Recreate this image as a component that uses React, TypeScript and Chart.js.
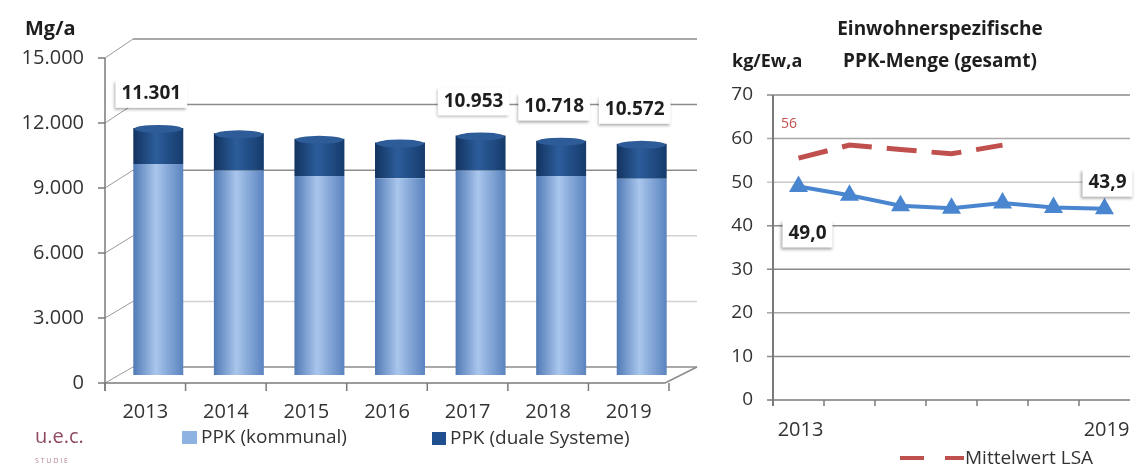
import React, { useEffect, useRef } from "react";
import { Chart, registerables } from "chart.js";

Chart.register(...registerables);

// ---------- DATA ----------
const years = ["2013", "2014", "2015", "2016", "2017", "2018", "2019"];
const kommunal = [9650, 9350, 9100, 9000, 9350, 9100, 8970];
const duale = [1651, 1700, 1700, 1630, 1603, 1618, 1602];
const labeledTotals = [0, 4, 5, 6];
const leftTicks = [0, 3000, 6000, 9000, 12000, 15000];

const perCapita = [49.0, 47.0, 44.6, 44.0, 45.2, 44.2, 43.9];
const mittelwert = [55.5, 58.5, 57.5, 56.5, 58.5, null, null];
const rightTicks = [0, 10, 20, 30, 40, 50, 60, 70];
const rightShownYears = ["2013", "2019"];

const FONT = "'Open Sans', 'DejaVu Sans', sans-serif";
const TXT = "#333333";

const fmtDE = (v: number) => String(Math.round(v)).replace(/\B(?=(\d{3})+(?!\d))/g, ".");
const fmtDec = (v: number) => v.toFixed(1).replace(".", ",");

function line(ctx: CanvasRenderingContext2D, x1: number, y1: number, x2: number, y2: number, color: string, w = 1) {
  ctx.save();
  ctx.strokeStyle = color;
  ctx.lineWidth = w;
  ctx.beginPath();
  ctx.moveTo(x1, y1);
  ctx.lineTo(x2, y2);
  ctx.stroke();
  ctx.restore();
}

function textAt(ctx: CanvasRenderingContext2D, t: string, x: number, y: number, font: string, color: string, align: CanvasTextAlign = "center") {
  ctx.save();
  ctx.font = font;
  ctx.fillStyle = color;
  ctx.textAlign = align;
  ctx.textBaseline = "middle";
  ctx.fillText(t, x, y);
  ctx.restore();
}

function labelBox(ctx: CanvasRenderingContext2D, t: string, cx: number, cy: number, font: string) {
  ctx.save();
  ctx.font = font;
  const tw = ctx.measureText(t).width;
  const w = tw + 12;
  const h = 28;
  ctx.shadowColor = "rgba(0,0,0,0.35)";
  ctx.shadowBlur = 3;
  ctx.shadowOffsetX = -1;
  ctx.shadowOffsetY = 2;
  ctx.fillStyle = "#ffffff";
  ctx.fillRect(cx - w / 2, cy - h / 2, w, h);
  ctx.restore();
  textAt(ctx, t, cx, cy, font, "#1e1e1e");
}

// ---------- LEFT CHART ----------
const leftPlugin = {
  id: "leftDeco",
  beforeDatasetsDraw(chart: any) {
    const ctx: CanvasRenderingContext2D = chart.ctx;
    const ys = chart.scales.y;
    const xs = chart.scales.x;
    const y0 = ys.getPixelForValue(0);
    const frontY = (v: number) => 383 + (ys.getPixelForValue(v) - y0) * (325 / 328);
    const backY = (v: number) => ys.getPixelForValue(v) - 8;
    const backL = 133, backR = 697, frontL = 105, frontR = 665;
    const gridColor = (v: number) => (v === 3000 || v === 6000 ? "#d2d2d2" : "#8c8c8c");
    leftTicks.forEach((v) => {
      line(ctx, backL, backY(v), backR, backY(v), gridColor(v), 1.5);
      line(ctx, frontL, frontY(v), backL, backY(v), "#9a9a9a", 1);
      line(ctx, 98, frontY(v), frontL, frontY(v), "#7a7a7a", 1.5);
      textAt(ctx, fmtDE(v), 84, frontY(v), `20px ${FONT}`, TXT, "right");
    });
    line(ctx, frontL, frontY(15000), frontL, frontY(0) + 8, "#7a7a7a", 1.5);
    line(ctx, frontL, frontY(0), frontR, frontY(0), "#7a7a7a", 1.5);
    line(ctx, frontR, frontY(0), backR, backY(0), "#8c8c8c", 1.5);
    const step = xs.getPixelForValue(1) - xs.getPixelForValue(0);
    for (let i = 0; i <= years.length; i++) {
      const bx = xs.getPixelForValue(0) - 13 - step / 2 + i * step;
      line(ctx, bx, frontY(0), bx, frontY(0) + 8, "#7a7a7a", 1.5);
    }
    years.forEach((yr, i) => {
      textAt(ctx, yr, xs.getPixelForValue(i) - 13, 412, `20px ${FONT}`, TXT);
    });
  },
  afterDatasetsDraw(chart: any) {
    const ctx: CanvasRenderingContext2D = chart.ctx;
    const ys = chart.scales.y;
    const xs = chart.scales.x;
    // cylinder tops
    const meta = chart.getDatasetMeta(1);
    meta.data.forEach((bar: any) => {
      ctx.save();
      ctx.fillStyle = "#2d5c98";
      ctx.beginPath();
      ctx.ellipse(bar.x, bar.y + 1, bar.width / 2 - 1, 4, 0, 0, Math.PI * 2);
      ctx.fill();
      ctx.restore();
    });
    labeledTotals.forEach((i) => {
      const total = kommunal[i] + duale[i];
      labelBox(ctx, fmtDE(total), xs.getPixelForValue(i) - 7, ys.getPixelForValue(total) - 34, `bold 19px ${FONT}`);
    });
    textAt(ctx, "Mg/a", 25, 29, `bold 20px ${FONT}`, "#1e1e1e", "left");
    textAt(ctx, "u.e.c.", 35, 437, `20px ${FONT}`, "#8e4a60", "left");
    textAt(ctx, "S T U D I E", 35, 461, `7px ${FONT}`, "#b08090", "left");
    // legend
    ctx.save();
    ctx.fillStyle = "#8db3e2";
    ctx.fillRect(182, 431, 15, 13);
    ctx.fillStyle = "#1f4f8f";
    ctx.fillRect(432, 432, 14, 13);
    ctx.restore();
    textAt(ctx, "PPK (kommunal)", 201, 438, `19px ${FONT}`, TXT, "left");
    textAt(ctx, "PPK (duale Systeme)", 450, 439, `19px ${FONT}`, TXT, "left");
  },
};

function cylinder(c0: string, c1: string, c2: string) {
  return (c: any) => {
    const chart = c.chart;
    const xs = chart.scales && chart.scales.x;
    if (!xs || !chart.chartArea || c.dataIndex === undefined) return c1;
    const cx = xs.getPixelForValue(c.dataIndex);
    const w = 25;
    const g = chart.ctx.createLinearGradient(cx - w, 0, cx + w, 0);
    g.addColorStop(0, c0);
    g.addColorStop(0.45, c1);
    g.addColorStop(1, c2);
    return g;
  };
}

function LeftChart() {
  const ref = useRef<HTMLCanvasElement>(null);
  useEffect(() => {
    const chart = new Chart(ref.current!, {
      type: "bar",
      data: {
        labels: years,
        datasets: [
          {
            label: "PPK (kommunal)",
            data: kommunal,
            backgroundColor: cylinder("#5079b5", "#a9c6ec", "#5a83bf") as any,
            barPercentage: 0.62,
            categoryPercentage: 1,
          },
          {
            label: "PPK (duale Systeme)",
            data: duale,
            backgroundColor: cylinder("#12335f", "#2c5d9b", "#163b6c") as any,
            barPercentage: 0.62,
            categoryPercentage: 1,
          },
        ],
      },
      options: {
        animation: false,
        responsive: false,
        layout: { padding: { left: 118, right: 18, top: 47, bottom: 92 } },
        plugins: { legend: { display: false }, tooltip: { enabled: false } },
        scales: {
          x: { display: false, stacked: true, offset: true },
          y: { display: false, stacked: true, min: 0, max: 15000 },
        },
      },
      plugins: [leftPlugin],
    });
    return () => chart.destroy();
  }, []);
  return <canvas ref={ref} width={700} height={467} style={{ position: "absolute", left: 0, top: 0, width: 700, height: 467 }} />;
}

// ---------- RIGHT CHART ----------
const rightPlugin = {
  id: "rightDeco",
  beforeDatasetsDraw(chart: any) {
    const ctx: CanvasRenderingContext2D = chart.ctx;
    const ys = chart.scales.y;
    const xs = chart.scales.x;
    const { left, right } = chart.chartArea;
    const gc = (v: number) => (v === 50 ? "#c8c8c8" : v === 20 || v === 60 ? "#a8a8a8" : "#8a8a8a");
    rightTicks.forEach((v) => {
      const py = ys.getPixelForValue(v);
      line(ctx, left - 6, py, right, py, v === 0 ? "#7a7a7a" : gc(v), 1.5);
      textAt(ctx, String(v), left - 20, py, `19px ${FONT}`, TXT, "right");
    });
    line(ctx, left, ys.getPixelForValue(70), left, ys.getPixelForValue(0) + 6, "#7a7a7a", 2);
    const step = xs.getPixelForValue(1) - xs.getPixelForValue(0);
    for (let i = 0; i < years.length - 1; i++) {
      const bx = xs.getPixelForValue(i) + step / 2;
      line(ctx, bx, ys.getPixelForValue(0), bx, ys.getPixelForValue(0) + 6, "#7a7a7a", 1.5);
    }
    years.forEach((yr, i) => {
      if (rightShownYears.includes(yr)) textAt(ctx, yr, xs.getPixelForValue(i) + 2, 430, `20px ${FONT}`, TXT);
    });
  },
  afterDatasetsDraw(chart: any) {
    const ctx: CanvasRenderingContext2D = chart.ctx;
    const ys = chart.scales.y;
    const xs = chart.scales.x;
    textAt(ctx, "Einwohnerspezifische", 240, 30, `bold 19px ${FONT}`, "#1e1e1e");
    textAt(ctx, "PPK-Menge (gesamt)", 240, 62, `bold 19px ${FONT}`, "#1e1e1e");
    textAt(ctx, "kg/Ew,a", 32, 62, `bold 18px ${FONT}`, "#1e1e1e", "left");
    textAt(ctx, String(Math.round(mittelwert[0] as number)), 89, ys.getPixelForValue(mittelwert[0] as number) - 34, `14px ${FONT}`, "#c0504d");
    labelBox(ctx, fmtDec(perCapita[0]), xs.getPixelForValue(0) + 9, ys.getPixelForValue(perCapita[0]) + 47, `bold 19px ${FONT}`);
    const last = perCapita.length - 1;
    labelBox(ctx, fmtDec(perCapita[last]), xs.getPixelForValue(last) + 3, ys.getPixelForValue(perCapita[last]) - 26, `bold 19px ${FONT}`);
    // legend
    ctx.save();
    ctx.strokeStyle = "#c0504d";
    ctx.lineWidth = 4;
    ctx.beginPath();
    ctx.moveTo(200, 458);
    ctx.lineTo(224, 458);
    ctx.moveTo(245, 458);
    ctx.lineTo(264, 458);
    ctx.stroke();
    ctx.restore();
    textAt(ctx, "Mittelwert LSA", 265, 459, `19px ${FONT}`, TXT, "left");
  },
};

function RightChart() {
  const ref = useRef<HTMLCanvasElement>(null);
  useEffect(() => {
    const chart = new Chart(ref.current!, {
      type: "line",
      data: {
        labels: years,
        datasets: [
          {
            label: "Mittelwert LSA",
            data: mittelwert,
            borderColor: "#c0504d",
            borderWidth: 5,
            borderDash: [30, 15],
            pointRadius: 0,
            fill: false,
            spanGaps: false,
          },
          {
            label: "PPK gesamt",
            data: perCapita,
            borderColor: "#4a86d0",
            backgroundColor: "#4a86d0",
            borderWidth: 4,
            pointStyle: "triangle",
            pointRadius: 7,
            fill: false,
          },
        ],
      },
      options: {
        animation: false,
        responsive: false,
        layout: { padding: { left: 73, right: 0, top: 95, bottom: 67 } },
        plugins: { legend: { display: false }, tooltip: { enabled: false } },
        scales: {
          x: { display: false, offset: true },
          y: { display: false, min: 0, max: 70 },
        },
      },
      plugins: [rightPlugin],
    });
    return () => chart.destroy();
  }, []);
  return <canvas ref={ref} width={441} height={467} style={{ position: "absolute", left: 700, top: 0, width: 441, height: 467 }} />;
}

export default function App() {
  return (
    <div style={{ position: "fixed", left: 0, top: 0, width: 1141, height: 467, background: "#ffffff", overflow: "hidden" }}>
      <LeftChart />
      <RightChart />
    </div>
  );
}
